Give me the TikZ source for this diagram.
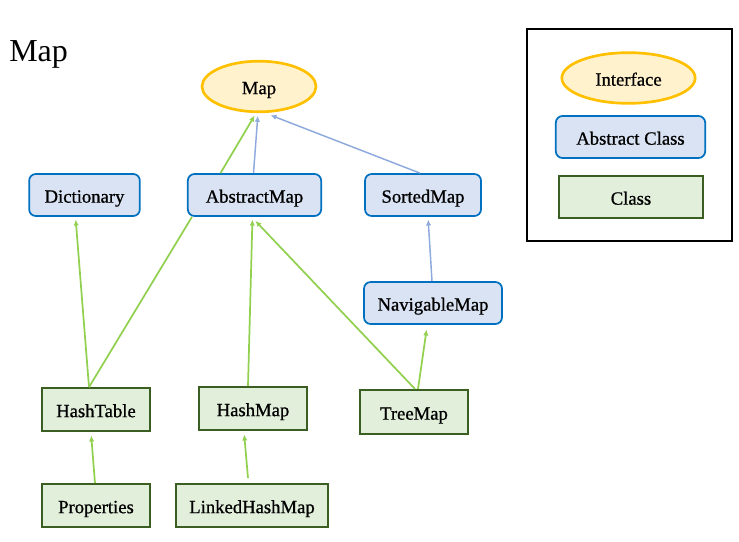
\documentclass[tikz,border=0pt]{standalone}
\usepackage{fontspec}
\setmainfont{Liberation Serif}
\newfontfamily\boxfont{Liberation Serif}[FakeBold=0.8]
\usetikzlibrary{shapes.geometric,arrows.meta,calc}
\definecolor{ifill}{HTML}{FFF2CC}
\definecolor{iline}{HTML}{FFC000}
\definecolor{afill}{HTML}{DAE3F3}
\definecolor{aline}{HTML}{0070C0}
\definecolor{cfill}{HTML}{E2EFDA}
\definecolor{cline}{HTML}{3B5E22}
\definecolor{gcol}{HTML}{92D050}
\definecolor{bcol}{HTML}{8EA9DB}
\begin{document}
\begin{tikzpicture}[x=0.75pt,y=-0.75pt,
  nodefont/.style={font=\boxfont\fontsize{14}{16}\selectfont,text height=11.5pt,text depth=0pt},
  iface/.style={ellipse,draw=iline,fill=ifill,line width=2pt,minimum height=38pt,nodefont},
  absbox/.style={draw=aline,fill=afill,line width=1.3pt,rounded corners=5pt,minimum height=31.5pt,nodefont},
  clsbox/.style={draw=cline,fill=cfill,line width=1.5pt,minimum height=32pt,nodefont},
  gline/.style={draw=gcol,line width=1.3pt,-{Latex[length=4.5pt,width=4pt]},shorten >=2pt},
  bline/.style={draw=bcol,line width=1.1pt,-{Latex[length=4.5pt,width=4pt]},shorten >=2pt}]
\useasboundingbox (0,0) rectangle (739,542);
% title
\node[anchor=base west,inner sep=0pt,font=\fontsize{24}{28}\selectfont] (title) at (9,62) {Map};
% interfaces and abstract classes
\node[iface,minimum width=85.5pt] (map) at (259,86.5) {Map};
\node[absbox,minimum width=83pt] (dict) at (84.5,195) {Dictionary};
\node[absbox,minimum width=100pt] (amap) at (254.5,195) {AbstractMap};
\node[absbox,minimum width=87pt] (smap) at (423,195) {SortedMap};
\node[absbox,minimum width=103.5pt] (nmap) at (433,303) {NavigableMap};
% classes
\node[clsbox,minimum width=81pt] (htab) at (96,409.5) {HashTable};
\node[clsbox,minimum width=81pt] (hmap) at (253,408.5) {HashMap};
\node[clsbox,minimum width=81pt,minimum height=33pt] (tmap) at (414,412) {TreeMap};
\node[clsbox,minimum width=81pt] (prop) at (96,505.5) {Properties};
\node[clsbox,minimum width=114pt] (lhmap) at (252,505.5) {LinkedHashMap};
% legend
\node[draw=black,line width=1.3pt,minimum width=153.75pt,minimum height=159pt] (legend) at (629.5,135) {};
\node[iface,minimum width=100pt] (liface) at (628.5,78) {Interface};
\node[absbox,minimum width=112pt] (labs) at (630.5,137) {Abstract Class};
\node[clsbox,minimum width=108pt] (lcls) at (631,197) {Class};
% connectors
\draw[gline] ($(amap.north)+(-34,0)$) -- ($(map.south)+(-3,0)$);
\draw[bline] ($(amap.north)+(-1,0)$) -- ($(map.south)+(-1,0)$);
\draw[bline] ($(smap.north)+(-3,0)$) -- ($(map.south)+(9,1)$);
\draw[bline] ($(nmap.north)+(-1,0)$) -- ($(smap.south)+(5,0)$);
\draw[gline] ($(htab.north)+(-7,0)$) -- ($(dict.south)+(-9,0)$);
\draw[draw=gcol,line width=1.3pt] ($(htab.north)+(-7,0)$) -- ($(amap.south west)+(5,0)$);
\draw[gline] ($(hmap.north)+(-5,0)$) -- ($(amap.south)+(-2,0)$);
\draw[gline] ($(tmap.north)+(1,0)$) -- ($(amap.south)+(-1,2)$);
\draw[gline] ($(tmap.north)+(4,0)$) -- ($(nmap.south)+(-6,2)$);
\draw[gline] ($(prop.north)+(-1,0)$) -- ($(htab.south)+(-5,1)$);
\draw[gline] ($(lhmap.north)+(-4,-5)$) -- ($(hmap.south)+(-9,1)$);
\end{tikzpicture}
\end{document}
